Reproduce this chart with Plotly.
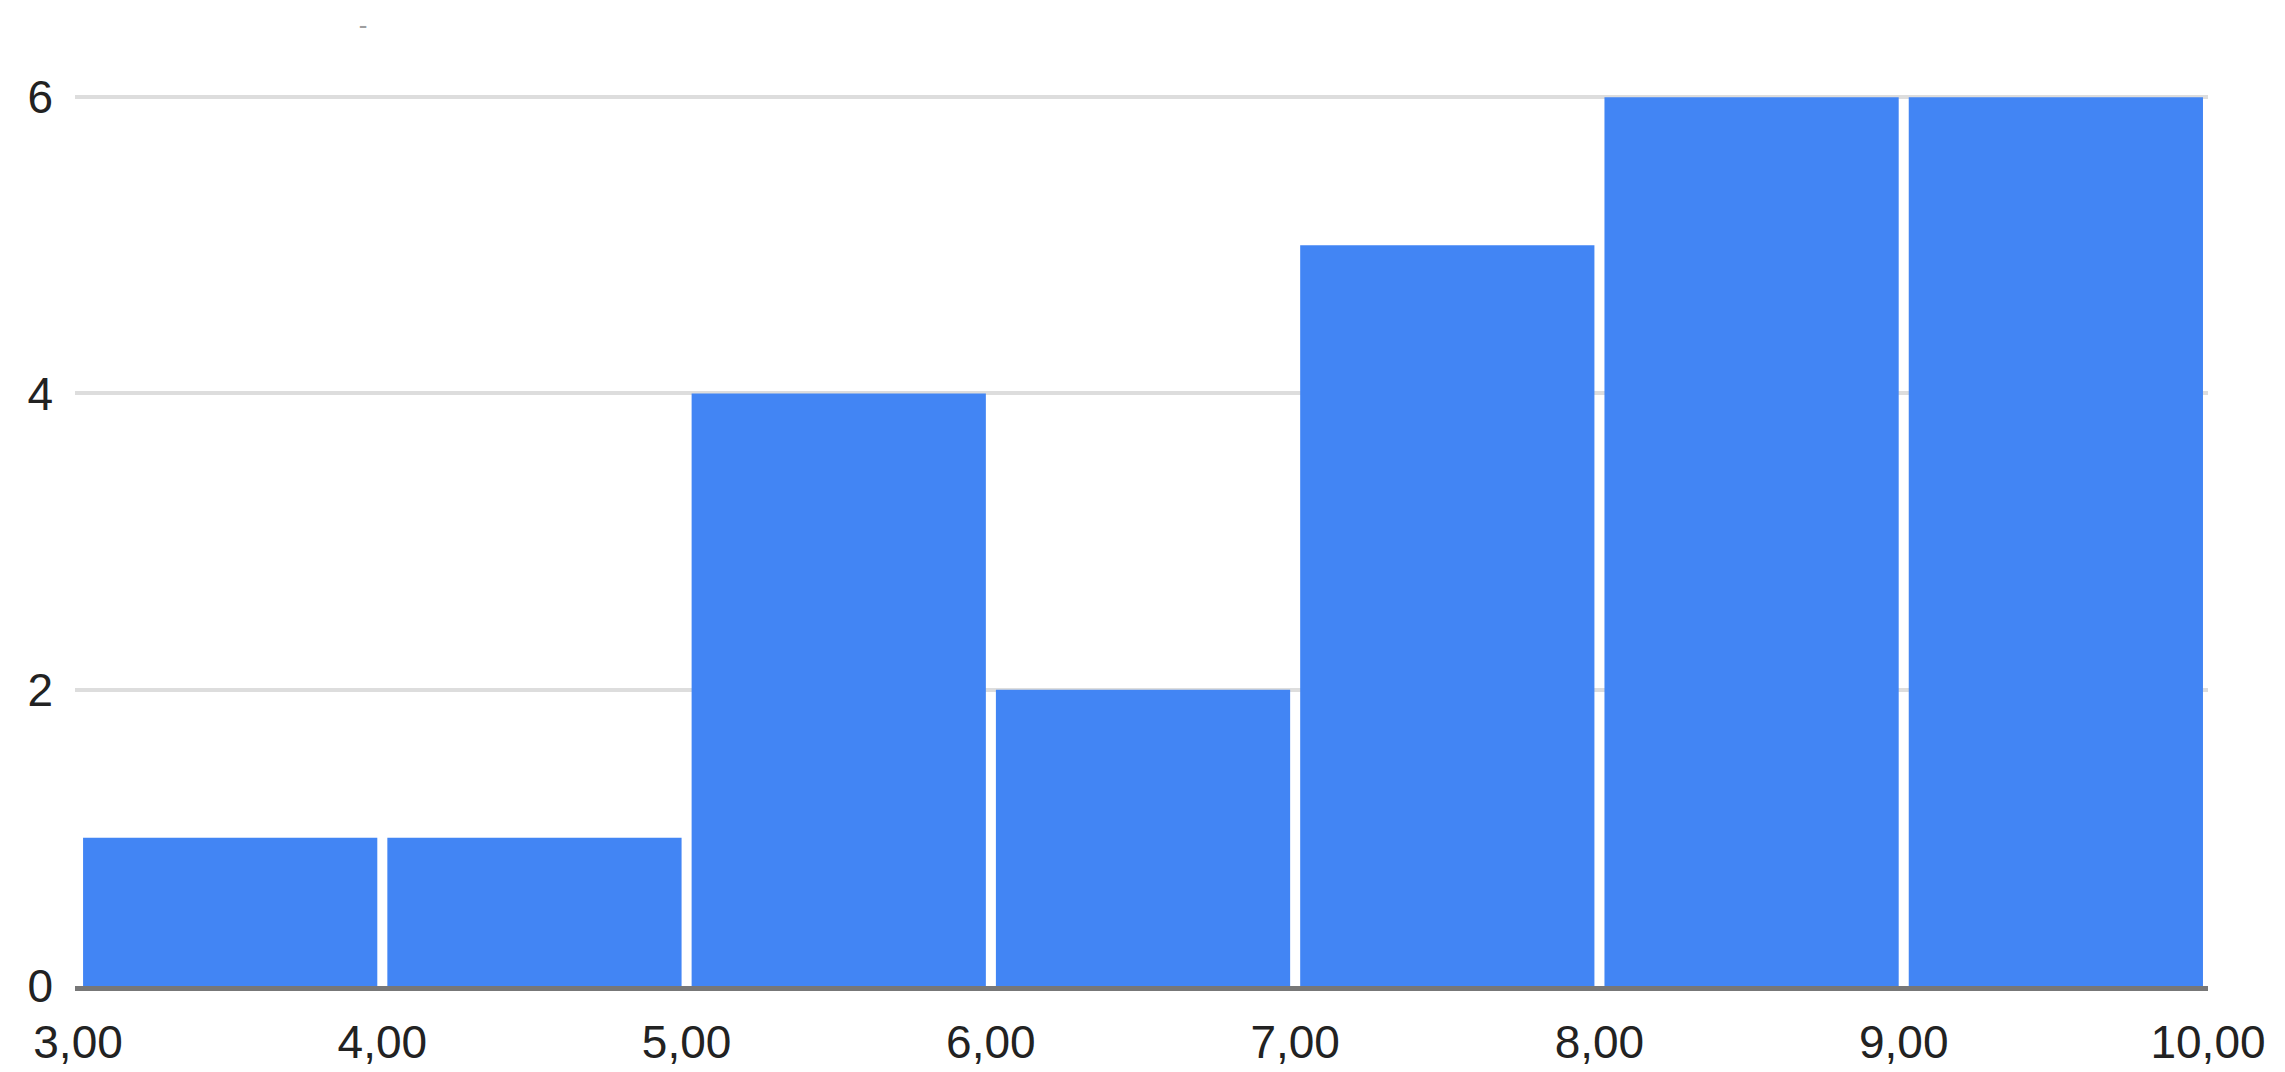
import plotly.graph_objects as go

bin_edges = [3, 4, 5, 6, 7, 8, 9, 10]
counts = [1, 1, 4, 2, 5, 6, 6]
x_tick_labels = ["3,00", "4,00", "5,00", "6,00", "7,00", "8,00", "9,00", "10,00"]
y_tick_values = [0, 2, 4, 6]
chart_title = "-"

bar_fill = 0.967  # fraction of each bin covered by its bar (white gap between bars)

centers = [(a + b) / 2 for a, b in zip(bin_edges[:-1], bin_edges[1:])]
widths = [(b - a) * bar_fill for a, b in zip(bin_edges[:-1], bin_edges[1:])]

fig = go.Figure()
fig.add_trace(go.Bar(
    x=centers,
    y=counts,
    width=widths,
    marker=dict(color="#4285F4", line=dict(width=0)),
    hoverinfo="x+y",
))

font_family = "Liberation Sans, Arial, sans-serif"

fig.update_layout(
    width=2285,
    height=1072,
    margin=dict(l=67, r=85, t=80, b=80),
    paper_bgcolor="white",
    plot_bgcolor="white",
    showlegend=False,
    font=dict(family=font_family, size=46, color="#222222"),
    title=dict(
        text=chart_title,
        x=355 / 2285,
        xanchor="center",
        y=1 - 17 / 1072,
        yanchor="middle",
        pad=dict(t=0, b=0, l=0, r=0),
        font=dict(size=26, color="#9e9e9e"),
    ),
)

fig.update_xaxes(
    range=[2.99, 10.0],
    tickmode="array",
    tickvals=bin_edges,
    ticktext=x_tick_labels,
    showgrid=False,
    zeroline=False,
    showline=True,
    linecolor="#777777",
    linewidth=5,
    layer="above traces",
    ticks="",
    ticklabelstandoff=12,
    tickfont=dict(size=46, color="#222222"),
)

fig.update_yaxes(
    range=[0, 6.062],
    tickmode="array",
    tickvals=y_tick_values,
    showgrid=True,
    gridcolor="#dddddd",
    gridwidth=4,
    zeroline=False,
    showline=False,
    ticks="",
    ticklabelstandoff=21,
    tickfont=dict(size=46, color="#222222"),
)

fig.write_html("out.html")
